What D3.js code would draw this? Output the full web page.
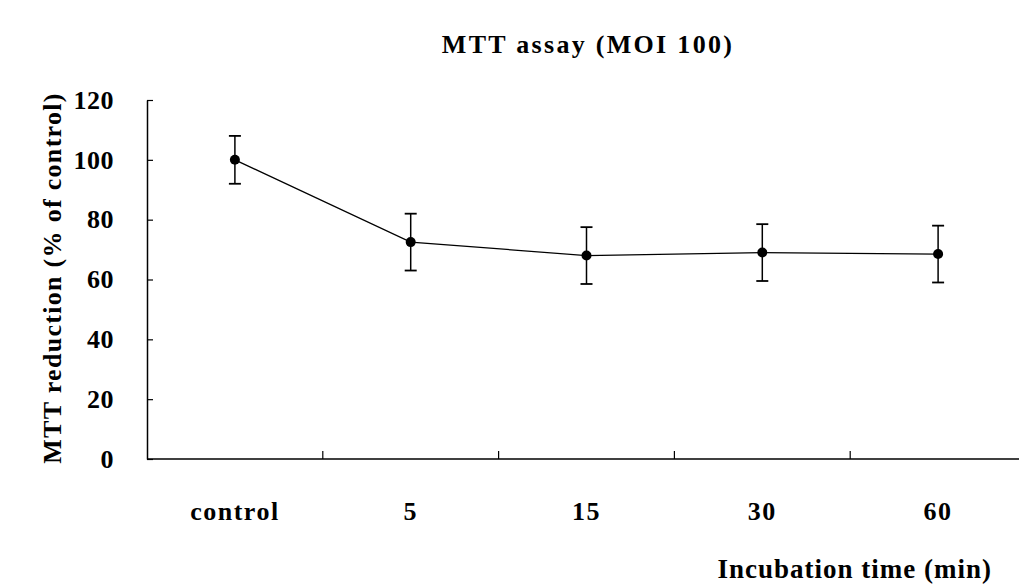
<!DOCTYPE html>
<html><head><meta charset="utf-8">
<script src="https://cdn.jsdelivr.net/npm/d3@7"></script>
<style>body{margin:0;background:#fff}svg{display:block}text{font-family:"Liberation Serif","Times New Roman",serif;font-weight:bold;fill:#000}</style>
</head><body>
<script>
const categories = ["control", "5", "15", "30", "60"];
const meanValues = [100, 72.5, 68, 69, 68.5];
const errorValues = [8, 9.5, 9.5, 9.5, 9.5];
const yTicks = [0, 20, 40, 60, 80, 100, 120];
const titleText = "MTT assay (MOI 100)";
const yLabel = "MTT reduction (% of control)";
const xLabel = "Incubation time (min)";

const W = 1019, H = 587;
const svg = d3.select("body").append("svg").attr("width", W).attr("height", H);
const x = d3.scaleBand().domain(categories).range([147, 1026]);
const y = d3.scaleLinear().domain([0, 120]).range([459, 100]);

// Y axis
const yAxis = svg.append("g").attr("transform", "translate(147,0)")
  .call(d3.axisLeft(y).tickValues(yTicks).tickSizeInner(-6).tickSizeOuter(0).tickPadding(33));
yAxis.select(".domain").attr("stroke", "#000").attr("stroke-width", 1.5);
yAxis.selectAll(".tick line").attr("stroke", "#000").attr("stroke-width", 1.2);
yAxis.selectAll(".tick text").attr("font-size", 26).attr("font-family", "Liberation Serif")
  .attr("font-weight", "bold").attr("fill", "#000").attr("letter-spacing", 0.5);

// X axis with ticks between categories
const xg = svg.append("g").attr("transform", "translate(0,459)");
xg.append("line").attr("x1", 147).attr("x2", 1026).attr("y1", 0).attr("y2", 0).attr("stroke", "#000").attr("stroke-width", 1.5);
xg.selectAll("line.tk").data(categories.slice(1)).join("line").attr("class", "tk")
  .attr("x1", d => x(d)).attr("x2", d => x(d)).attr("y1", 0).attr("y2", -8)
  .attr("stroke", "#000").attr("stroke-width", 1.2);
xg.selectAll("text").data(categories).join("text")
  .attr("x", d => x(d) + x.bandwidth() / 2).attr("y", 61)
  .attr("text-anchor", "middle").attr("font-size", 26).attr("letter-spacing", 1.5).text(d => d);

// line
const line = d3.line().x((d, i) => x(categories[i]) + x.bandwidth() / 2).y(d => y(d));
svg.append("path").datum(meanValues).attr("d", line).attr("fill", "none").attr("stroke", "#000").attr("stroke-width", 1.3);

// error bars
const eb = svg.append("g").selectAll("g").data(meanValues).join("g");
const cx = (i) => x(categories[i]) + x.bandwidth() / 2;
eb.append("line").attr("x1", (d, i) => cx(i)).attr("x2", (d, i) => cx(i))
  .attr("y1", (d, i) => y(d + errorValues[i])).attr("y2", (d, i) => y(d - errorValues[i]))
  .attr("stroke", "#000").attr("stroke-width", 1.5);
eb.append("line").attr("x1", (d, i) => cx(i) - 6).attr("x2", (d, i) => cx(i) + 6)
  .attr("y1", (d, i) => y(d + errorValues[i])).attr("y2", (d, i) => y(d + errorValues[i]))
  .attr("stroke", "#000").attr("stroke-width", 1.8);
eb.append("line").attr("x1", (d, i) => cx(i) - 6).attr("x2", (d, i) => cx(i) + 6)
  .attr("y1", (d, i) => y(d - errorValues[i])).attr("y2", (d, i) => y(d - errorValues[i]))
  .attr("stroke", "#000").attr("stroke-width", 1.8);
eb.append("circle").attr("cx", (d, i) => cx(i)).attr("cy", d => y(d)).attr("r", 5).attr("fill", "#000");

// title & labels
svg.append("text").attr("x", 588).attr("y", 53).attr("text-anchor", "middle").attr("font-size", 26)
  .attr("letter-spacing", 2.3).text(titleText);
svg.append("text").attr("transform", "translate(61,278) rotate(-90)").attr("text-anchor", "middle")
  .attr("font-size", 26).attr("letter-spacing", 1.3).text(yLabel);
svg.append("text").attr("x", 992).attr("y", 578).attr("text-anchor", "end").attr("font-size", 27)
  .attr("letter-spacing", 1).text(xLabel);
</script>
</body></html>
